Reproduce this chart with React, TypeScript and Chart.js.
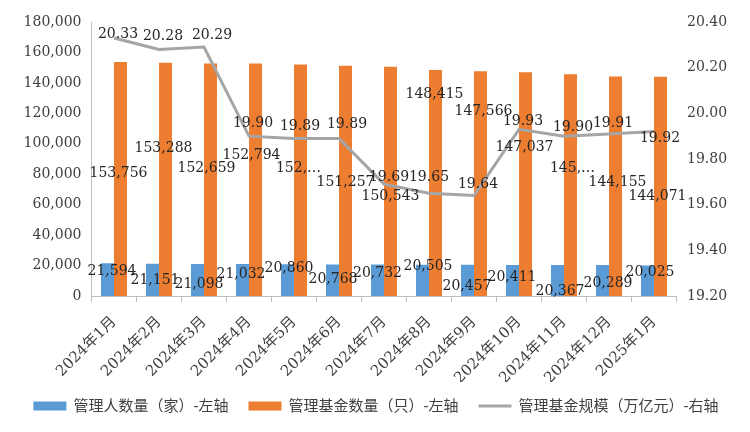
import React, { useEffect, useRef } from 'react';
import { Chart, registerables } from 'chart.js';

Chart.register(...registerables);

// ---------- data ----------
const categories = [
  '2024年1月', '2024年2月', '2024年3月', '2024年4月', '2024年5月', '2024年6月',
  '2024年7月', '2024年8月', '2024年9月', '2024年10月', '2024年11月', '2024年12月', '2025年1月',
];
const managerCounts = [21594, 21151, 21098, 21032, 20860, 20768, 20732, 20505, 20457, 20411, 20367, 20289, 20025];
const fundCounts = [153756, 153288, 152659, 152794, 152050, 151257, 150543, 148415, 147566, 147037, 145700, 144155, 144071];
const fundScale = [20.33, 20.28, 20.29, 19.9, 19.89, 19.89, 19.69, 19.65, 19.64, 19.93, 19.9, 19.91, 19.92];
const seriesNames = ['管理人数量（家）-左轴', '管理基金数量（只）-左轴', '管理基金规模（万亿元）-右轴'];
const leftAxis = { min: 0, max: 180000, step: 20000 };
const rightAxis = { min: 19.2, max: 20.4, step: 0.2 };
const truncatedFundLabels = [4, 10];

// ---------- styling / label layout ----------
const COLORS = ['#5B9BD5', '#ED7D31', '#A5A5A5'];
const FONT = '"DejaVu Serif", "Noto Sans CJK SC", serif';
const managerLabelOffsets = [
  [4.5, 8], [2.5, 17], [1.5, 20], [-1.5, 10], [1.5, 4], [0.5, 15], [0, 9],
  [5.5, 2], [-0.5, 21], [-0.5, 12], [2.5, 26], [5.5, 18], [2.5, 7],
];
const fundLabelOffsets = [
  [-2, 111], [-2, 86], [-4, 105], [-4, 92], [-2, 104], [0, 117], [0, 130],
  [-1, 24], [3, 40], [-1, 75], [2, 94], [2, 106], [-3, 120],
];
const scaleLabelOffsets = [
  [4, -4], [4, -13], [8, -12], [4, -13], [6, -12], [8, -14], [5, -7],
  [0, -16], [4, -11], [4, -8], [9, -9], [4, -11], [6, 7],
];

const fmtInt = (v: number) => v.toLocaleString('en-US');

const dataLabelPlugin = {
  id: 'dataLabelPlugin',
  afterDatasetsDraw(chart: any) {
    const ctx = chart.ctx as CanvasRenderingContext2D;
    ctx.save();
    ctx.font = `14px ${FONT}`;
    ctx.fillStyle = '#262626';
    ctx.textAlign = 'center';
    ctx.textBaseline = 'middle';
    const cfg = [
      { offs: managerLabelOffsets, text: (v: number) => fmtInt(v) },
      {
        offs: fundLabelOffsets,
        text: (v: number, i: number) => {
          const s = fmtInt(v);
          return truncatedFundLabels.includes(i) ? s.split(',')[0] + ',…' : s;
        },
      },
      { offs: scaleLabelOffsets, text: (v: number) => v.toFixed(2) },
    ];
    chart.data.datasets.forEach((ds: any, di: number) => {
      const meta = chart.getDatasetMeta(di);
      meta.data.forEach((el: any, i: number) => {
        const { x, y } = el.getProps(['x', 'y'], true);
        const o = cfg[di].offs[i];
        ctx.fillText(cfg[di].text(ds.data[i], i), x + o[0], y + o[1]);
      });
    });
    ctx.restore();
  },
};

const legendPlugin = {
  id: 'customLegend',
  afterDraw(chart: any) {
    const ctx = chart.ctx as CanvasRenderingContext2D;
    ctx.save();
    ctx.font = `15px ${FONT}`;
    ctx.textBaseline = 'middle';
    ctx.textAlign = 'left';
    const boxW = 33;
    const gapText = 7;
    const gapItem = 20;
    const widths = seriesNames.map((n) => boxW + gapText + ctx.measureText(n).width);
    const total = widths.reduce((a, b) => a + b, 0) + gapItem * (widths.length - 1);
    let x = 376 - total / 2;
    const cy = 406;
    seriesNames.forEach((name, i) => {
      if (i < 2) {
        ctx.fillStyle = COLORS[i];
        ctx.fillRect(x, cy - 4.5, boxW, 9);
      } else {
        ctx.strokeStyle = COLORS[i];
        ctx.lineWidth = 3;
        ctx.beginPath();
        ctx.moveTo(x, cy);
        ctx.lineTo(x + boxW, cy);
        ctx.stroke();
      }
      ctx.fillStyle = '#404040';
      ctx.fillText(name, x + boxW + gapText, cy + 1);
      x += widths[i] + gapItem;
    });
    ctx.restore();
  },
};

export default function App() {
  const ref = useRef<HTMLCanvasElement | null>(null);

  useEffect(() => {
    document.body.style.margin = '0';
    if (!ref.current) return;
    const chart = new Chart(ref.current, {
      type: 'bar',
      data: {
        labels: categories,
        datasets: [
          {
            type: 'bar',
            label: seriesNames[0],
            data: managerCounts,
            backgroundColor: COLORS[0],
            yAxisID: 'y',
            order: 2,
            categoryPercentage: 26 / 45,
            barPercentage: 1,
          },
          {
            type: 'bar',
            label: seriesNames[1],
            data: fundCounts,
            backgroundColor: COLORS[1],
            yAxisID: 'y',
            order: 2,
            categoryPercentage: 26 / 45,
            barPercentage: 1,
          },
          {
            type: 'line',
            label: seriesNames[2],
            data: fundScale,
            borderColor: COLORS[2],
            backgroundColor: COLORS[2],
            borderWidth: 3,
            pointRadius: 0,
            tension: 0,
            yAxisID: 'y1',
            order: 1,
          } as any,
        ],
      },
      options: {
        responsive: false,
        animation: false,
        layout: { padding: { top: 22, bottom: 50, left: 0, right: 0 } },
        plugins: {
          legend: { display: false },
          tooltip: { enabled: false },
        },
        scales: {
          x: {
            offset: true,
            grid: {
              display: true,
              drawOnChartArea: false,
              drawTicks: true,
              tickLength: 6,
              color: '#BFBFBF',
              offset: true,
            },
            border: { display: true, color: '#BFBFBF' },
            ticks: {
              autoSkip: false,
              maxRotation: 45,
              minRotation: 45,
              padding: 11,
              color: '#404040',
              font: { family: FONT, size: 15 },
            },
            afterFit: (s: any) => {
              s.height = 86;
            },
          },
          y: {
            position: 'left',
            min: leftAxis.min,
            max: leftAxis.max,
            grid: { display: false, drawTicks: false },
            border: { display: true, color: '#BFBFBF' },
            ticks: {
              stepSize: leftAxis.step,
              padding: 10,
              color: '#404040',
              font: { family: FONT, size: 14 },
              callback: (v: any) => fmtInt(Number(v)),
            },
            afterFit: (s: any) => {
              s.width = 91.5;
            },
          },
          y1: {
            position: 'right',
            min: rightAxis.min,
            max: rightAxis.max,
            grid: { display: false, drawTicks: false },
            border: { display: false },
            ticks: {
              stepSize: rightAxis.step,
              padding: 10.5,
              color: '#404040',
              font: { family: FONT, size: 14 },
              callback: (v: any) => Number(v).toFixed(2),
            },
            afterFit: (s: any) => {
              s.width = 73.5;
            },
          },
        },
      },
      plugins: [dataLabelPlugin, legendPlugin],
    });
    return () => chart.destroy();
  }, []);

  return (
    <div style={{ width: 750, height: 432, background: '#fff' }}>
      <canvas ref={ref} width={750} height={432} style={{ display: 'block' }} />
    </div>
  );
}
